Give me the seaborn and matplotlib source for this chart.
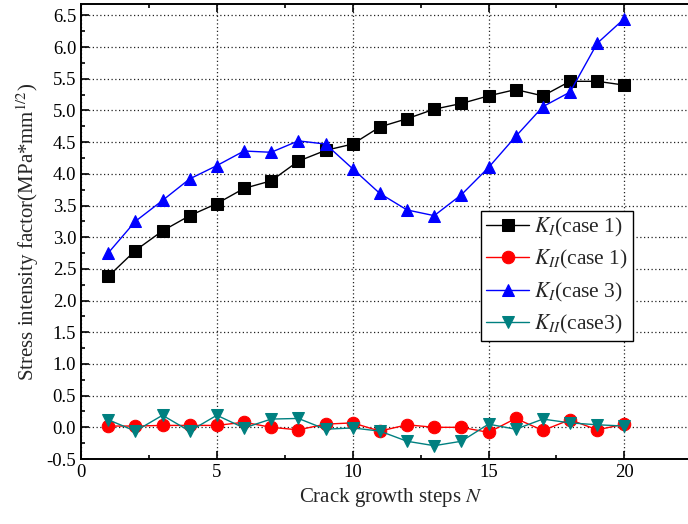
import numpy as np
import pandas as pd
import matplotlib
matplotlib.use("Agg")
import matplotlib.pyplot as plt
from matplotlib.ticker import MultipleLocator
import seaborn as sns

steps = list(range(1, 21))
k1_case1 = [2.38, 2.79, 3.10, 3.34, 3.53, 3.77, 3.89, 4.20, 4.37, 4.47,
            4.74, 4.87, 5.02, 5.11, 5.23, 5.33, 5.23, 5.46, 5.46, 5.40]
k2_case1 = [0.02, 0.02, 0.03, 0.03, 0.03, 0.08, 0.00, -0.04, 0.05, 0.07,
            -0.06, 0.04, 0.00, 0.00, -0.08, 0.14, -0.05, 0.12, -0.04, 0.05]
k1_case3 = [2.75, 3.25, 3.58, 3.92, 4.13, 4.36, 4.34, 4.52, 4.47, 4.08,
            3.69, 3.43, 3.34, 3.67, 4.10, 4.59, 5.06, 5.29, 6.06, 6.45]
k2_case3 = [0.12, -0.06, 0.19, -0.06, 0.19, -0.01, 0.13, 0.14, -0.03, -0.01,
            -0.06, -0.22, -0.29, -0.22, 0.05, -0.03, 0.13, 0.07, 0.04, 0.02]

labels = [r"$K_I$(case 1)", r"$K_{II}$(case 1)", r"$K_I$(case 3)", r"$K_{II}$(case3)"]
series = [k1_case1, k2_case1, k1_case3, k2_case3]
colors = ["#000000", "#FF0000", "#0000FF", "#008080"]
markers = ["s", "o", "^", "v"]

sns.set_theme(style="ticks")
plt.rcParams["font.family"] = ["Liberation Serif", "DejaVu Serif"]
plt.rcParams["mathtext.fontset"] = "stix"

fig = plt.figure(figsize=(6.88, 5.24), dpi=100)
ax = fig.add_axes([81/688, 65/524, 620/688, 455/524])

for vals, lab, c, m in zip(series, labels, colors, markers):
    sns.lineplot(x=steps, y=vals, ax=ax, color=c, marker=m, markersize=9,
                 markeredgecolor=c, linewidth=1.0, label=lab)

ax.set_xlim(0, 22.82)
ax.set_ylim(-0.5, 6.68)
ax.xaxis.set_major_locator(MultipleLocator(5))
ax.xaxis.set_minor_locator(MultipleLocator(2.5))
ax.yaxis.set_major_locator(MultipleLocator(0.5))
ax.yaxis.set_minor_locator(MultipleLocator(0.25))
ax.yaxis.set_major_formatter(matplotlib.ticker.FormatStrFormatter("%.1f"))
ax.grid(True, which="major", linestyle=(0, (1, 2)), color="#222222", linewidth=0.9)
ax.tick_params(which="both", direction="in", top=True, right=True, labelsize=13.5,
               colors="black", width=1.2)
ax.tick_params(which="major", length=6)
ax.tick_params(which="minor", length=3)
for s in ax.spines.values():
    s.set_linewidth(1.4)
    s.set_color("black")

ax.set_xlabel(r"Crack growth steps $N$", fontsize=15)
ax.set_ylabel(r"Stress intensity factor(MPa*mm$^{1/2}$)", fontsize=15)

leg = ax.legend(loc="upper left", bbox_to_anchor=(481/688, 1 - 211/524),
                bbox_transform=fig.transFigure, fontsize=15.5, frameon=True,
                fancybox=False, edgecolor="black", framealpha=1,
                handlelength=2.0, borderpad=0.25, labelspacing=0.42,
                handletextpad=0.2, borderaxespad=0)
leg.get_frame().set_linewidth(1.0)

fig.savefig("out.png", dpi=100)
